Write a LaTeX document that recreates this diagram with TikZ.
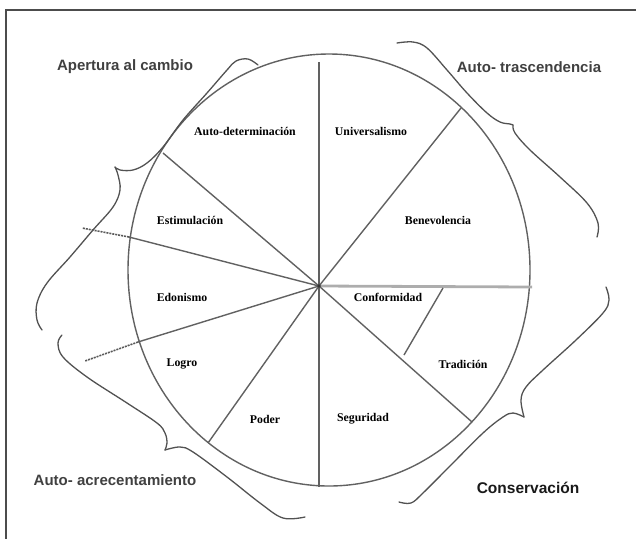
\documentclass[tikz,border=0pt]{standalone}
\usepackage{fontspec}
\setmainfont{Liberation Serif}
\setsansfont{Liberation Sans}

\begin{document}
\begin{tikzpicture}[
  x=1pt, y=-1pt,
  rim/.style={draw=black!62, line width=1.4pt},
  spoke/.style={draw=black!62, line width=1.4pt},
  axisline/.style={draw=black!32, line width=2.8pt},
  ext/.style={draw=black!65, line width=1.6pt, dash pattern=on 2pt off 1pt},
  brace/.style={draw=black!68, line width=1.3pt, line cap=round},
  seg/.style={font=\fontsize{11.8}{14}\selectfont\bfseries},
  grp/.style={font=\fontsize{15}{18}\selectfont\sffamily\bfseries, text=black!75}
]
\useasboundingbox (0,0) rectangle (636,539);
% marco
\draw[black!70, line width=1.2pt] (636,10) -- (6,10) -- (6,539);

% circulo
\draw[rim] (329,270) ellipse [x radius=201pt, y radius=216pt];

% centro y extremos de los radios
\coordinate (o) at (319,286);
\coordinate (top) at (319,62);
\coordinate (bot) at (319,487);
\coordinate (rbene) at (461,108);
\coordinate (rauto) at (163,153);
\coordinate (restim) at (129,237);
\coordinate (redon) at (138,342);
\coordinate (rlogro) at (208,443);
\coordinate (rsegu) at (472,422);
\coordinate (rconf) at (532,287);
\coordinate (xestim) at (82,228);
\coordinate (xedon) at (85,361);
\coordinate (ctop) at (443,288);
\coordinate (cbot) at (404,355);

\draw[axisline] (o) -- (rconf);
\draw[spoke] (top) -- (bot);
\draw[spoke] (o) -- (rbene);
\draw[spoke] (o) -- (rauto);
\draw[spoke] (o) -- (restim);
\draw[spoke] (o) -- (redon);
\draw[spoke] (o) -- (rlogro);
\draw[spoke] (o) -- (rsegu);
\draw[spoke] (ctop) -- (cbot);
\draw[ext] (restim) -- (xestim);
\draw[ext] (redon) -- (xedon);
\fill[black!80] (o) circle (1.8pt);

% llaves
\draw[brace] plot[smooth, tension=0.6] coordinates {(258,65) (248,59) (236,61) (227,70) (207,93) (183,120) (163,147) (147,163) (133,170) (120,170) (115,167)};
\draw[brace] plot[smooth, tension=0.6] coordinates {(115,167) (118,175) (120,190) (113,207) (93,230) (70,257) (47,283) (37,303) (37,320) (42,330)};
\draw[brace] plot[smooth, tension=0.6] coordinates {(397,43) (413,42) (427,48) (447,70) (467,93) (487,113) (500,122) (510,124) (513,125)};
\draw[brace] plot[smooth, tension=0.6] coordinates {(513,125) (515,133) (530,150) (560,177) (587,203) (598,223) (597,237)};
\draw[brace] plot[smooth, tension=0.6] coordinates {(606,287) (609,300) (603,313) (576,340) (543,370) (526,387) (521,400) (524,417)};
\draw[brace] plot[smooth, tension=0.6] coordinates {(524,417) (513,413) (503,417) (483,433) (449,467) (423,493) (411,503) (399,502)};
\draw[brace] plot[smooth, tension=0.6] coordinates {(62,335) (58,343) (63,357) (87,377) (127,403) (157,423) (165,433) (167,443) (165,450)};
\draw[brace] plot[smooth, tension=0.6] coordinates {(165,450) (180,447) (193,452) (227,477) (260,503) (283,518) (305,517)};

% valores
\node[seg] (autodet) at (245,131) {Auto-determinación};
\node[seg] (univ) at (371,131) {Universalismo};
\node[seg] (estim) at (190,220) {Estimulación};
\node[seg] (bene) at (438,220) {Benevolencia};
\node[seg] (edon) at (182,297) {Edonismo};
\node[seg] (conf) at (388,297) {Conformidad};
\node[seg] (logro) at (182,364) {Logro};
\node[seg] (trad) at (463,364) {Tradición};
\node[seg] (poder) at (265,419) {Poder};
\node[seg] (segu) at (363,419) {Seguridad};

% dimensiones
\node[grp] (apert) at (125,67) {Apertura al cambio};
\node[grp] (trasc) at (529,67) {Auto- trascendencia};
\node[grp] (acrec) at (115,480) {Auto- acrecentamiento};
\node[grp, text=black!90, font=\fontsize{15.5}{18}\selectfont\sffamily\bfseries] (conserv) at (528,488) {Conservación};
\end{tikzpicture}
\end{document}
